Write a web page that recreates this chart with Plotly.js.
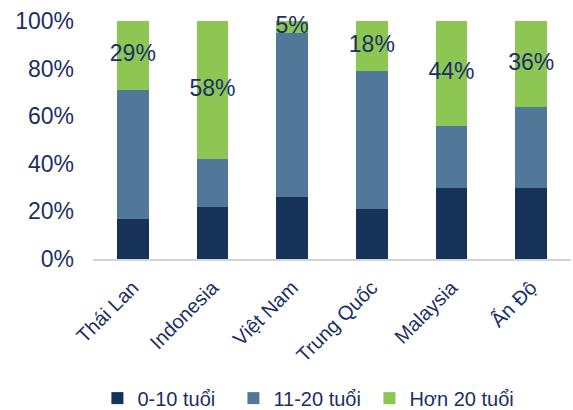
<!DOCTYPE html>
<html>
<head>
<meta charset="utf-8">
<script src="https://cdn.plot.ly/plotly-3.0.1.min.js"></script>
<style>html,body{margin:0;padding:0;background:#fff;}#chart{width:573px;height:410px;}</style>
</head>
<body>
<div id="chart"></div>
<script>
var categories = ["Thái Lan", "Indonesia", "Việt Nam", "Trung Quốc", "Malaysia", "Ấn Độ"];
var age0to10 = [17, 22, 26, 21, 30, 30];
var age11to20 = [54, 20, 69, 58, 26, 34];
var over20 = [29, 58, 5, 21, 44, 36];
var over20Labels = ["29%", "58%", "5%", "18%", "44%", "36%"];
var seriesNames = ["0-10 tuổi", "11-20 tuổi", "Hơn 20 tuổi"];
var yTickVals = [0, 20, 40, 60, 80, 100];
var yTickText = ["0%", "20%", "40%", "60%", "80%", "100%"];

var navy = "#1b2f66";
var font = "Liberation Sans, Arial, sans-serif";

var labelY = categories.map(function(c, i){ return age0to10[i] + age11to20[i] + over20[i] / 2; });

var traces = [
  {type: "bar", name: seriesNames[0], x: categories, y: age0to10, marker: {color: "#173259"}, hoverinfo: "none"},
  {type: "bar", name: seriesNames[1], x: categories, y: age11to20, marker: {color: "#517898"}, hoverinfo: "none"},
  {type: "bar", name: seriesNames[2], x: categories, y: over20, marker: {color: "#8dc652"}, hoverinfo: "none"},
  {type: "scatter", mode: "text", x: categories, y: labelY, text: over20Labels, showlegend: false, cliponaxis: false,
   textfont: {family: font, size: 23, color: navy}, textposition: "middle center", hoverinfo: "none"}
];

var layout = {
  width: 573, height: 410,
  margin: {l: 93, r: 2, t: 21, b: 151},
  paper_bgcolor: "#fff", plot_bgcolor: "#fff",
  barmode: "stack",
  bargap: 0.6,
  font: {family: font, color: navy},
  xaxis: {
    type: "category", tickangle: -45, showgrid: false, zeroline: false, automargin: false,
    showline: true, linecolor: "#d4d4d4", linewidth: 2, ticklabelstandoff: 7,
    tickfont: {family: font, size: 20, color: navy}, ticks: ""
  },
  yaxis: {
    range: [0, 100], tickvals: yTickVals, ticktext: yTickText, showgrid: false, zeroline: false, automargin: false,
    showline: false, tickfont: {family: font, size: 23, color: navy}, ticks: "", ticklabelstandoff: 18
  },
  showlegend: true,
  legend: {orientation: "h", xref: "container", yref: "container", x: 0.17, xanchor: "left", y: 0.029, yanchor: "middle",
    entrywidth: 91, entrywidthmode: "pixels", itemwidth: 30,
    font: {family: font, size: 20, color: navy}, traceorder: "normal"}
};

Plotly.newPlot("chart", traces, layout, {displayModeBar: false, staticPlot: true}).then(function(gd){
  var boxes = gd.querySelectorAll(".legend .scrollbox, .legend");
  boxes.forEach(function(el){ el.removeAttribute("clip-path"); el.style.clipPath = "none"; });
});
</script>
</body>
</html>
